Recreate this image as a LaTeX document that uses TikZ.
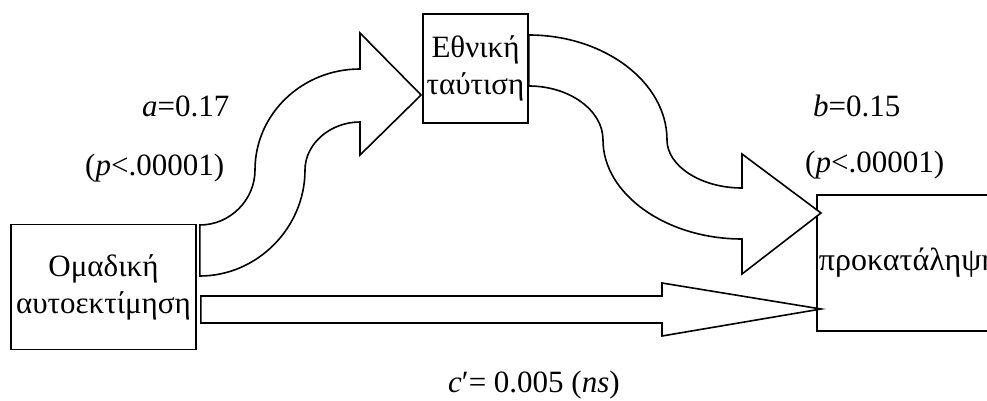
\documentclass[tikz,border=0pt]{standalone}
\usepackage{fontspec}
\setmainfont{Liberation Serif}
\newfontfamily\timesfont{Liberation Serif}
\begin{document}
\begin{tikzpicture}[x=1pt,y=-1pt,
  box/.style={draw, line width=1.8pt, align=center, inner sep=0pt, fill=white},
  fatarrow/.style={draw, line width=1.6pt, fill=white, line join=miter},
  lbl/.style={anchor=base west, inner sep=0pt},
  font=\timesfont\fontsize{31}{37}\selectfont]
\useasboundingbox (0,0) rectangle (987,401);
% boxes
\node[box, minimum width=185pt, minimum height=125pt] (om) at (103.5,287) {Ομαδική\\αυτοεκτίμηση};
\node[box, minimum width=105pt, minimum height=109pt] (et) at (475.5,68.5) {Εθνική\\ταύτιση};
\node[box, anchor=north west, minimum height=136pt, inner xsep=2pt, font=\timesfont\fontsize{32}{37}\selectfont] (pr) at (816,194) {προκατάληψη};
% connector end points
\coordinate (a1) at ([xshift=3pt]om.east |- 0,225);
\coordinate (a2) at ([xshift=3pt]om.east |- 0,276);
\coordinate (atip) at ([xshift=-1pt]et.west |- 0,95);
\coordinate (b1) at (et.east |- 0,35);
\coordinate (b2) at (et.east |- 0,86);
\coordinate (btip) at ([xshift=5pt]pr.west |- 0,213);
\coordinate (c1) at ([xshift=4pt]om.east |- 0,296);
\coordinate (c2) at ([xshift=4pt]om.east |- 0,323);
\coordinate (ctip) at ([xshift=5pt]pr.west |- 0,309);
% arrow a
\draw[fatarrow] (a1)
  .. controls (230,225) and (255,200) .. (255,170)
  .. controls (255,114) and (302,69) .. (360,69)
  -- (360,33) -- (atip) -- (360,155) -- (360,122)
  .. controls (330,122) and (305,144) .. (305,170)
  .. controls (305,228) and (257,276) .. (a2) -- cycle;
% arrow b
\draw[fatarrow] (b1)
  .. controls (604,35) and (667,82) .. (667,140)
  .. controls (667,166) and (701,188) .. (742,188)
  -- (742,154) -- (btip) -- (742,274) -- (742,239)
  .. controls (666,239) and (603,194) .. (603,140)
  .. controls (603,110) and (569,86) .. (b2) -- cycle;
% arrow c
\draw[fatarrow] (c1) -- (662,296) -- (662,283) -- (ctip) -- (662,336) -- (662,323) -- (c2) -- cycle;
% labels
\node[lbl] (la) at (142,117) {\textit{a}=0.17};
\node[lbl] (lap) at (85,175) {(\textit{p}<.00001)};
\node[lbl] (lb) at (813,117) {\textit{b}=0.15};
\node[lbl] (lbp) at (805,172) {(\textit{p}<.00001)};
\node[lbl] (lc) at (448,392) {\textit{c}′= 0.005 (\textit{ns})};
\end{tikzpicture}
\end{document}
